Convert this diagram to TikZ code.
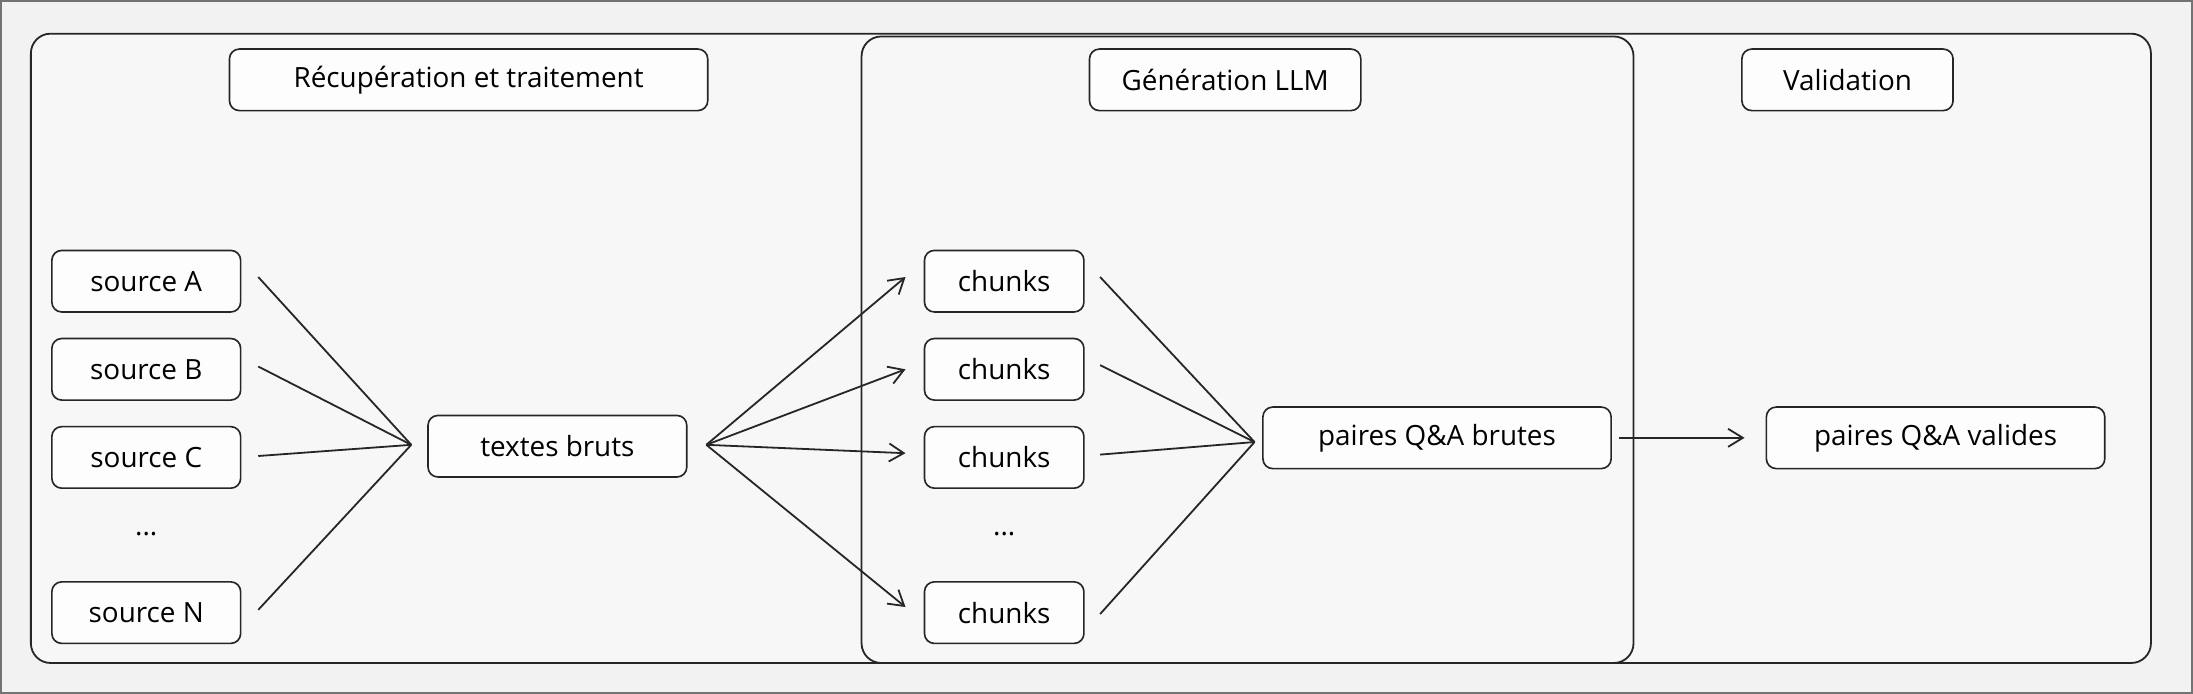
\documentclass[tikz,border=0pt]{standalone}
\usepackage{fontspec}
\setmainfont{Open Sans}
\usetikzlibrary{arrows.meta}
\begin{document}
\begin{tikzpicture}[x=0.03cm,y=-0.03cm,
  box/.style={draw=black!85,line width=1pt,rounded corners=6pt,fill=white!60!black!2,font=\fontsize{17}{20}\selectfont,inner sep=0pt},
  ln/.style={draw=black!85,line width=1.1pt},
  ar/.style={ln,-{Straight Barb[length=9pt,width=11pt]}}]
\fill[black!5] (0,0) rectangle (1568,496);
\draw[black!55,line width=1pt] (0.5,0.5) rectangle (1567.5,495.5);
\draw[ln,rounded corners=12pt,fill=black!3] (22,24) rectangle (1538,474);
\draw[ln,rounded corners=12pt,fill=black!3] (616,26) rectangle (1168,474);
\node[box,minimum width=342*0.03cm,minimum height=44*0.03cm] (t1) at (335,57) {Récupération et traitement};
\node[box,minimum width=194*0.03cm,minimum height=44*0.03cm] (t2) at (876,57) {Génération LLM};
\node[box,minimum width=151*0.03cm,minimum height=44*0.03cm] (t3) at (1321,57) {Validation};
\foreach \n/\t/\y in {sA/source A/201,sB/source B/264,sC/source C/327,sN/source N/438}
  \node[box,minimum width=135*0.03cm,minimum height=44*0.03cm] (\n) at (104.5,\y) {\t};
\node[font=\fontsize{17}{20}\selectfont] (d1) at (104.5,382) {...};
\foreach \n/\y in {c1/201,c2/264,c3/327,c4/438}
  \node[box,minimum width=114*0.03cm,minimum height=44*0.03cm] (\n) at (718,\y) {chunks};
\node[font=\fontsize{17}{20}\selectfont] (d2) at (718,382) {...};
\node[box,minimum width=185*0.03cm,minimum height=44*0.03cm] (tb) at (398.5,319) {textes bruts};
\node[box,minimum width=249*0.03cm,minimum height=44*0.03cm] (qb) at (1027.5,313) {paires Q\&A brutes};
\node[box,minimum width=242*0.03cm,minimum height=44*0.03cm] (qv) at (1384,313) {paires Q\&A valides};
\coordinate (pin) at (294,318);
\coordinate (pout) at (505,318);
\coordinate (qin) at (897,316);
\foreach \n/\y in {sA/198,sB/262,sC/326,sN/436}
  \draw[ln] ([xshift=12*0.03cm]\n.east |- 0,\y) -- (pin);
\draw[ar] (pout) -- ([xshift=-13*0.03cm]c1.west |- 0,198);
\draw[ar] (pout) -- ([xshift=-13*0.03cm]c2.west |- 0,264);
\draw[ar] (pout) -- ([xshift=-13*0.03cm]c3.west |- 0,324);
\draw[ar] (pout) -- ([xshift=-13*0.03cm]c4.west |- 0,434);
\foreach \n/\y in {c1/198,c2/261,c3/325,c4/439}
  \draw[ln] ([xshift=11*0.03cm]\n.east |- 0,\y) -- (qin);
\draw[ar] ([xshift=5*0.03cm]qb.east) -- ([xshift=-15*0.03cm]qv.west);
\end{tikzpicture}
\end{document}
